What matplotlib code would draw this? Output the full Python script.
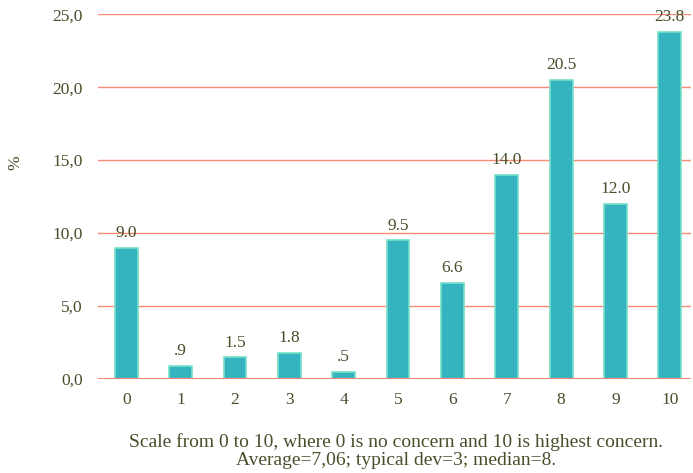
import matplotlib.pyplot as plt

# concern scale 0..10 and share of answers, %
escala = list(range(11))
porcentaje = [9.0, 0.9, 1.5, 1.8, 0.5, 9.5, 6.6, 14.0, 20.5, 12.0, 23.8]
etiquetas = ["9.0", ".9", "1.5", "1.8", ".5", "9.5", "6.6", "14.0", "20.5", "12.0", "23.8"]
ticks_y = [0, 5, 10, 15, 20, 25]
ticks_y_txt = ["0,0", "5,0", "10,0", "15,0", "20,0", "25,0"]

texto = "#474f2a"
plt.rcParams['font.family'] = ['Liberation Serif', 'DejaVu Serif']

fig = plt.figure(figsize=(6.93, 4.73), dpi=100)
ax = fig.add_axes([0.1414, 0.1987, 0.855, 0.7713])

ax.bar(escala, porcentaje, width=0.42, color="#35b3c1", edgecolor="#74e0c6",
       linewidth=1.2, zorder=3)
for x, v, t in zip(escala, porcentaje, etiquetas):
    ax.text(x, v + 0.45, t, ha="center", va="bottom", fontsize=12.5, color=texto)

ax.set_xlim(-0.52, 10.38)
ax.set_ylim(0, 25)
ax.set_yticks(ticks_y)
ax.set_yticklabels(ticks_y_txt)
ax.set_xticks(escala)
ax.grid(axis="y", color="#fa8a76", linewidth=1, zorder=0)
ax.axhline(0, color="#fa8a76", linewidth=1.5, zorder=4)
for s in ax.spines.values():
    s.set_visible(False)
ax.tick_params(length=0, labelsize=12.5, colors=texto)
ax.tick_params(axis="y", pad=11)
ax.tick_params(axis="x", pad=9)

fig.text(0.022, 0.655, "%", rotation=90, fontsize=12.5, color=texto, ha="center", va="center")
fig.text(0.571, 0.047, "Scale from 0 to 10, where 0 is no concern and 10 is highest concern.\n"
         "Average=7,06; typical dev=3; median=8.", ha="center", va="center",
         fontsize=14, color=texto, linespacing=1.08)

fig.savefig("out.png", dpi=100)
